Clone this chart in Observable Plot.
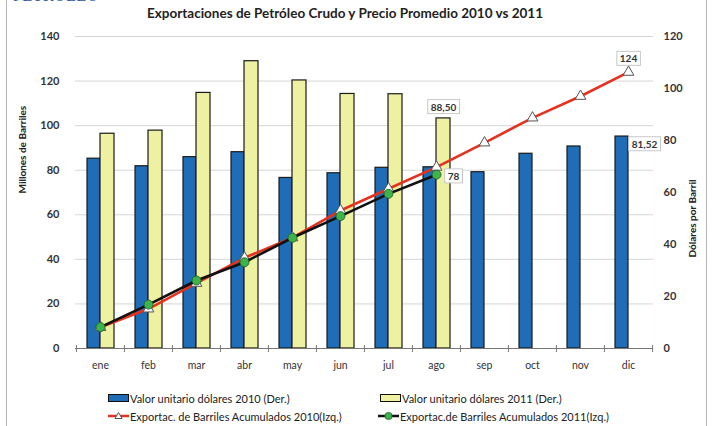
<!DOCTYPE html>
<html>
<head>
<meta charset="utf-8">
<script src="https://cdn.jsdelivr.net/npm/d3@7"></script>
<script src="https://cdn.jsdelivr.net/npm/@observablehq/plot@0.6"></script>
<style>
  html, body { margin: 0; padding: 0; background: #fff; }
  body { width: 718px; height: 426px; position: relative; overflow: hidden; font-family: Lato, "Open Sans", sans-serif; }
  #frame { position: absolute; left: 6px; top: 0; width: 699px; height: 426px; border-left: 1px solid #b5b5b5; border-right: 1px solid #b5b5b5; pointer-events: none; }
  #corner { position: absolute; left: 13px; top: -13px; font-family: "Liberation Serif", "DejaVu Serif", serif; font-size: 16px; color: #2f55a6; letter-spacing: 0.5px; }
  #title { position: relative; height: 26px; line-height: 26px; text-align: center; font-weight: bold; font-size: 13.5px; color: #222; padding-right: 28px; }
  #chart svg { display: block; }
  #legend { position: relative; height: 48px; font-size: 11px; color: #222; }
  .li { position: absolute; display: flex; align-items: center; white-space: nowrap; height: 14px; }
  .sw { display: inline-block; width: 19px; height: 6px; border: 1px solid #111; margin-right: 1px; }
</style>
</head>
<body>
<div id="frame"></div>
<div id="corner">PETRÓLEO</div>
<div id="title">Exportaciones de Petróleo Crudo y Precio Promedio 2010 vs 2011</div>
<div id="chart"></div>
<div id="legend"></div>
<script>
// ---- data ----
const meses = ["ene","feb","mar","abr","may","jun","jul","ago","sep","oct","nov","dic"];
const valor2010 = [73.0, 70.1, 73.6, 75.5, 65.6, 67.4, 69.5, 69.7, 67.8, 74.9, 77.7, 81.52]; // US$/barril (Der.)
const valor2011 = [82.6, 83.8, 98.3, 110.5, 103.1, 97.9, 97.8, 88.5];                       // US$/barril (Der.)
const acum2010 = [9.5, 17.8, 29.3, 40.7, 49.7, 61.9, 71.7, 81.4, 92.3, 103.5, 113.2, 124];  // millones barriles (Izq.)
const acum2011 = [9.6, 19.7, 30.5, 38.7, 49.7, 59.4, 69.4, 78];                              // millones barriles (Izq.)
const ticksIzq = [0, 20, 40, 60, 80, 100, 120, 140];
const ticksDer = [0, 20, 40, 60, 80, 100, 120];
const serieNombres = [
  "Valor unitario dólares 2010 (Der.)",
  "Valor unitario dólares 2011 (Der.)",
  "Exportac. de Barriles Acumulados 2010(Izq.)",
  "Exportac.de Barriles Acumulados 2011(Izq.)"
];
const colores = { azul: "#1f6cb7", amarillo: "#eef0a2", rojo: "#e5321f", negro: "#111", verde: "#3cb44b" };

// ---- tables ----
const k = 140 / 120; // right-axis to left-axis factor
const t2010 = valor2010.map((v, i) => ({ mes: meses[i], v }));
const t2011 = valor2011.map((v, i) => ({ mes: meses[i], v }));
const a2010 = acum2010.map((v, i) => ({ mes: meses[i], v }));
const a2011 = acum2011.map((v, i) => ({ mes: meses[i], v }));
const fmt2 = v => v.toFixed(2).replace(".", ",");
const last = a => a[a.length - 1];

const font = "Lato, 'Open Sans', sans-serif";
const bw = 578 / 12;

const chart = Plot.plot({
  width: 718,
  height: 352,
  marginLeft: 75,
  marginRight: 65,
  marginTop: 10,
  marginBottom: 30,
  style: { fontFamily: font, background: "transparent", overflow: "visible" },
  x: { type: "band", domain: meses, padding: 0, axis: null },
  y: { domain: [0, 140], axis: null },
  marks: [
    Plot.ruleY(ticksIzq.filter(d => d > 0), { stroke: "#d6d6d6", strokeWidth: 1 }),
    Plot.barY(t2010, { x: "mes", y: d => d.v * k, fill: colores.azul, stroke: "#1a1a1a", strokeWidth: 1.2, insetLeft: 11, insetRight: 24 }),
    Plot.barY(t2011, { x: "mes", y: d => d.v * k, fill: colores.amarillo, stroke: "#1a1a1a", strokeWidth: 1.2, insetLeft: 24, insetRight: 10 }),
    Plot.ruleY([0], { stroke: "#777", strokeWidth: 1 }),
    // band-boundary tick marks
    Plot.axisX({ tickSize: 7, dy: -3, dx: -bw / 2, text: null, label: null, stroke: "#777" }),
    Plot.axisX({ ticks: [meses[meses.length - 1]], tickSize: 7, dy: -3, dx: bw / 2, text: null, label: null, stroke: "#777" }),
    // month labels
    Plot.axisX({ tickSize: 0, tickPadding: 13, fontSize: 10.5, fill: "#333", label: null }),
    // left axis
    Plot.axisY({ ticks: ticksIzq, tickSize: 0, tickPadding: 16, fontSize: 11, fontWeight: "bold", fill: "#333", label: null }),
    // right axis
    Plot.axisY({ anchor: "right", ticks: ticksDer.map(v => v * k), tickFormat: d => String(Math.round(d / k)), tickSize: 0, tickPadding: 10, fontSize: 11, fontWeight: "bold", fill: "#333", label: null }),
    Plot.text(["Millones de Barriles"], { frameAnchor: "left", text: d => d, rotate: -90, dx: -53, dy: 1, fontSize: 10, fontWeight: "bold", fill: "#222" }),
    Plot.text(["Dólares por Barril"], { frameAnchor: "right", text: d => d, rotate: -90, dx: 39, dy: -13, fontSize: 10, fontWeight: "bold", fill: "#222" }),
    // cumulative lines
    Plot.line(a2010, { x: "mes", y: "v", stroke: colores.rojo, strokeWidth: 2.6 }),
    Plot.dot(a2010, { x: "mes", y: "v", symbol: "triangle", r: 4, fill: "#fff", stroke: "#555", strokeWidth: 1 }),
    Plot.line(a2011, { x: "mes", y: "v", stroke: colores.negro, strokeWidth: 2.6 }),
    Plot.dot(a2011, { x: "mes", y: "v", r: 4.5, fill: colores.verde, stroke: "#245a24", strokeWidth: 0.8 }),
    // data labels
    Plot.text([last(a2010)], { x: "mes", y: "v", text: d => String(Math.round(d.v)), dy: -13, fontSize: 10, fontWeight: "bold", fill: "#333", className: "lbl" }),
    Plot.text([last(a2011)], { x: "mes", y: "v", text: d => String(Math.round(d.v)), dx: 17, dy: 2, fontSize: 10, fontWeight: "bold", fill: "#333", className: "lbl" }),
    Plot.text([last(t2011)], { x: "mes", y: d => d.v * k, text: d => fmt2(d.v), dx: 7, dy: -11, fontSize: 10, fontWeight: "bold", fill: "#333", className: "lbl" }),
    Plot.text([last(t2010)], { x: "mes", y: d => d.v * k, text: d => fmt2(d.v), dx: 16, dy: 8, fontSize: 10, fontWeight: "bold", fill: "#333", className: "lbl" })
  ]
});
document.getElementById("chart").appendChild(chart);

// white boxes behind data labels
chart.querySelectorAll("g.lbl text").forEach(t => {
  const b = t.getBBox();
  const r = document.createElementNS("http://www.w3.org/2000/svg", "rect");
  r.setAttribute("x", b.x - 3); r.setAttribute("y", b.y - 1);
  r.setAttribute("width", b.width + 6); r.setAttribute("height", b.height + 2);
  r.setAttribute("fill", "#fff"); r.setAttribute("stroke", "#c8c8c8"); r.setAttribute("stroke-width", 1);
  const tr = t.getAttribute("transform");
  if (tr) r.setAttribute("transform", tr);
  t.parentNode.insertBefore(r, t);
});

// legend
const lg = document.getElementById("legend");
const pos = [[108, 20], [380, 20], [108, 38], [378, 38]];
serieNombres.forEach((name, i) => {
  const d = document.createElement("div");
  d.className = "li";
  d.style.left = pos[i][0] + "px";
  d.style.top = (pos[i][1] - 7) + "px";
  let sw;
  if (i < 2) {
    sw = `<span class="sw" style="background:${i === 0 ? colores.azul : colores.amarillo}"></span>`;
  } else if (i === 2) {
    sw = `<svg width="21" height="12" style="margin-right:1px"><line x1="0" y1="6" x2="21" y2="6" stroke="${colores.rojo}" stroke-width="2.5"/><path d="M10.5,2.5 L14,8.5 L7,8.5 Z" fill="#fff" stroke="#555" stroke-width="1"/></svg>`;
  } else {
    sw = `<svg width="21" height="12" style="margin-right:1px"><line x1="0" y1="6" x2="21" y2="6" stroke="${colores.negro}" stroke-width="2.5"/><circle cx="10.5" cy="6" r="3.6" fill="${colores.verde}" stroke="#245a24" stroke-width="0.8"/></svg>`;
  }
  d.innerHTML = sw + `<span>${name}</span>`;
  lg.appendChild(d);
});
</script>
</body>
</html>
